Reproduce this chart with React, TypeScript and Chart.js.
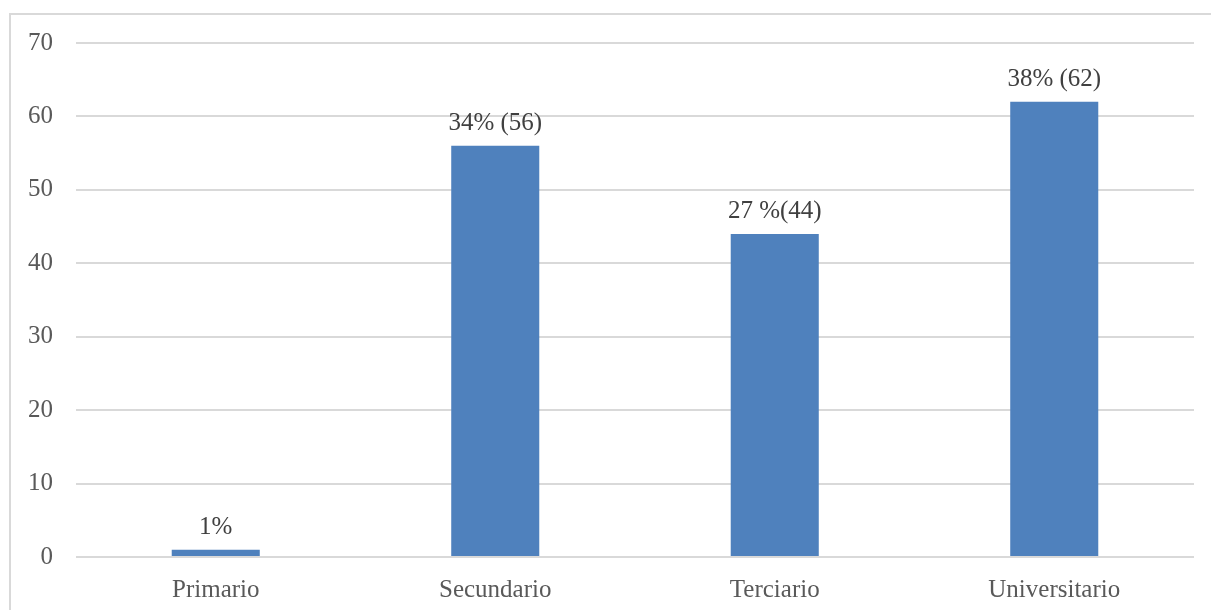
import React, { useEffect, useRef } from "react";
import { Chart, registerables } from "chart.js";

Chart.register(...registerables);

const categories = ["Primario", "Secundario", "Terciario", "Universitario"];
const counts = [1, 56, 44, 62];
const valueLabels = ["1%", "34% (56)", "27 %(44)", "38% (62)"];
const yTicks = [0, 10, 20, 30, 40, 50, 60, 70];

const FONT = "'Liberation Serif', 'Times New Roman', serif";

// Thin frame around the whole chart
const framePlugin = {
  id: "frame",
  beforeDraw(chart: any) {
    const { ctx } = chart;
    ctx.save();
    ctx.strokeStyle = "#d9d9d9";
    ctx.lineWidth = 2;
    ctx.beginPath();
    ctx.moveTo(10, 640);
    ctx.lineTo(10, 14);
    ctx.lineTo(1230, 14);
    ctx.stroke();
    ctx.restore();
  },
};

// Value labels above each bar
const valueLabelPlugin = {
  id: "valueLabels",
  afterDatasetsDraw(chart: any) {
    const { ctx } = chart;
    const meta = chart.getDatasetMeta(0);
    ctx.save();
    ctx.fillStyle = "#404040";
    ctx.font = `25px ${FONT}`;
    ctx.textAlign = "center";
    ctx.textBaseline = "alphabetic";
    meta.data.forEach((bar: any, i: number) => {
      ctx.fillText(valueLabels[i], bar.x, bar.y - 16);
    });
    ctx.restore();
  },
};

export default function App() {
  const canvasRef = useRef<HTMLCanvasElement | null>(null);

  useEffect(() => {
    if (!canvasRef.current) return;
    const chart = new Chart(canvasRef.current, {
      type: "bar",
      data: {
        labels: categories,
        datasets: [
          {
            data: counts,
            backgroundColor: "#4f81bd",
            categoryPercentage: 1,
            barPercentage: 0.315,
          },
        ],
      },
      options: {
        animation: false,
        responsive: false,
        maintainAspectRatio: false,
        layout: { padding: { left: 10, right: 17, top: 43, bottom: 0 } },
        plugins: {
          legend: { display: false },
          tooltip: { enabled: false },
        },
        scales: {
          x: {
            grid: { display: false, drawTicks: false },
            border: { display: false },
            ticks: {
              color: "#595959",
              font: { family: FONT, size: 25 },
              padding: 18,
            },
            afterFit(scale: any) {
              scale.height = 53;
            },
          },
          y: {
            min: 0,
            max: 70,
            afterBuildTicks(scale: any) {
              scale.ticks = yTicks.map((v) => ({ value: v }));
            },
            grid: { color: "#d9d9d9", lineWidth: 2, drawTicks: false },
            border: { display: false },
            ticks: {
              color: "#595959",
              font: { family: FONT, size: 25 },
              padding: 23,
            },
            afterFit(scale: any) {
              scale.width = 66;
            },
          },
        },
      },
      plugins: [framePlugin, valueLabelPlugin],
    });
    return () => chart.destroy();
  }, []);

  return (
    <div style={{ position: "absolute", left: 0, top: 0, width: 1211, height: 610, background: "#fff" }}>
      <canvas ref={canvasRef} width={1211} height={610} style={{ display: "block" }} />
    </div>
  );
}
